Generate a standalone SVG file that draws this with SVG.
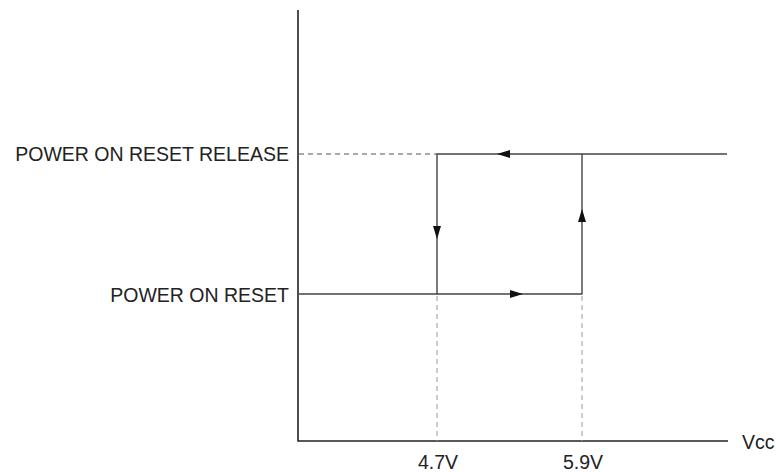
<svg xmlns="http://www.w3.org/2000/svg" width="776" height="472" viewBox="0 0 776 472">
<defs>
<style>
.ax{stroke:#222;stroke-width:1.6;fill:none}
.ln{stroke:#444;stroke-width:1.4;fill:none}
.ds{stroke:#999;stroke-width:1;stroke-dasharray:5,4;fill:none}
.dk{stroke:#555;stroke-width:1;stroke-dasharray:5,4;fill:none}
.ar{fill:#111}
text{font-family:"Liberation Sans",Arial,sans-serif;font-size:19.5px;fill:#222}
</style>
</defs>
<g id="axes">
<path class="ax" d="M298,10 V441 H728"/>
</g>
<g id="labels">
<text x="289" y="161" text-anchor="end">POWER ON RESET RELEASE</text>
<text x="289" y="302" text-anchor="end">POWER ON RESET</text>
<text x="438" y="469" text-anchor="middle">4.7V</text>
<text x="583" y="469" text-anchor="middle">5.9V</text>
<text x="742" y="449">Vcc</text>
</g>
<g id="connectors">
<path class="dk" d="M299,154 H437"/>
<path class="ds" d="M437,296 V441"/>
<path class="ds" d="M582,296 V441"/>
<path class="ln" d="M727,154 H437 V294"/>
<path class="ln" d="M299,294 H582 V154"/>
<polygon class="ar" points="497,154 510,150 510,158"/>
<polygon class="ar" points="437,239 433,226 441,226"/>
<polygon class="ar" points="582,209 578,222 586,222"/>
<polygon class="ar" points="523,294 510,290 510,298"/>
</g>
</svg>
